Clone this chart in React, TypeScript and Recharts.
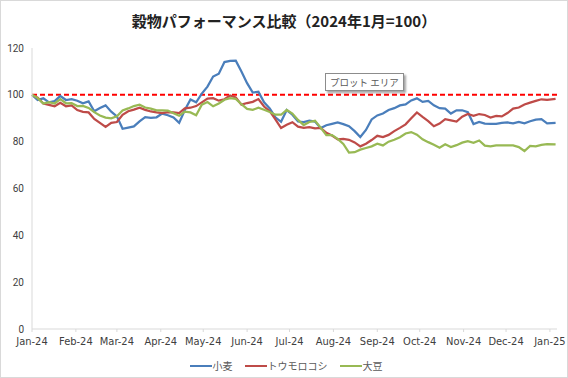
import { LineChart, Line, XAxis, YAxis, ReferenceLine, Legend } from 'recharts';

// days since 2024-01-01, one reading every 4 days
const days = [
  0, 4, 8, 12, 16, 20, 24, 28, 32, 36, 40, 44, 48, 52, 56, 60, 64, 68, 72, 76, 80, 84, 88,
  92, 96, 100, 104, 108, 112, 116, 120, 124, 128, 132, 136, 140, 144, 148, 152, 156, 160,
  164, 168, 172, 176, 180, 184, 188, 192, 196, 200, 204, 208, 212, 216, 220, 224, 228, 232,
  236, 240, 244, 248, 252, 256, 260, 264, 268, 272, 276, 280, 284, 288, 292, 296, 300, 304,
  308, 312, 316, 320, 324, 328, 332, 336, 340, 344, 348, 352, 356, 360, 364, 370,
];

const wheat = [
  100, 97.8, 98.5, 96.8, 97.3, 99.5, 97.8, 98.2, 97.5, 96.4, 97.2, 93, 94.4, 95.5, 92.8, 90.8,
  85.5, 86, 86.5, 88.7, 90.5, 90.2, 90.4, 92, 91.3, 90.3, 88, 93.5, 98, 96.8, 100.5, 103.5,
  107.8, 109, 114, 114.5, 114.6, 110, 105, 101, 101.3, 96.8, 94.2, 90.4, 88.5, 93.5, 91.5,
  88.6, 88.4, 89, 88.6, 85.8, 87, 87.6, 88.2, 87.5, 86.6, 84.5, 82, 85, 89.5, 91.2, 92, 93.5,
  94.3, 95.5, 95.9, 97.6, 98.5, 97, 97.4, 95.5, 94.3, 94.1, 92, 93.4, 93.4, 92.6, 87.5, 88.4,
  87.7, 87.6, 87.6, 88, 88.2, 87.8, 88.4, 87.8, 88.7, 89.4, 89.6, 87.8, 88,
];

const corn = [
  100, 98.8, 96.3, 95.7, 95.1, 96.6, 95.1, 95.5, 93.5, 92.7, 92.5, 89.7, 88, 86.3, 88, 88.4,
  91.5, 93, 93.7, 94.5, 93.6, 92.9, 92.5, 92.2, 92.6, 92.5, 92.2, 94.2, 94.5, 95.2, 96.8, 98.4,
  98.6, 97.5, 98.1, 99.7, 98.9, 95.8, 96.5, 97, 98.2, 95, 93, 89.5, 85.8, 87.2, 88.3, 86.4,
  85.9, 86.2, 85.7, 85.9, 83.8, 82.6, 81, 81.2, 80.8, 79.7, 78, 79.1, 80.7, 82.5, 82, 82.9,
  84.5, 85.9, 87.4, 90, 92.5, 90.6, 88.8, 86.6, 87.7, 89.6, 89.1, 88.6, 90.7, 91.8, 91, 91.8,
  91.4, 90.3, 91, 90.8, 92.2, 94.1, 94.6, 95.9, 96.7, 97.4, 98.1, 97.8, 98.3,
];

const soy = [
  100, 98.6, 96.3, 96.9, 96.3, 98.2, 96.4, 96.5, 95.2, 95.3, 94.4, 92.6, 91.2, 90.3, 90, 90.8,
  93.3, 94.2, 95.2, 95.8, 94.6, 94.1, 93.4, 93.4, 93.3, 92.1, 91.1, 92.8, 92.5, 91.3, 95.8,
  96.9, 95.1, 96.3, 97.9, 98.6, 98.3, 96, 94, 93.6, 94.5, 93.6, 92.7, 91.5, 91.5, 93.6, 92,
  89.3, 87.1, 88.4, 88.9, 86, 82.8, 82.8, 81.2, 79, 75.3, 75.5, 76.6, 77.3, 78, 79.1, 78.4, 80,
  80.8, 81.9, 83.5, 84.1, 83, 81, 79.8, 78.7, 77.4, 78.9, 77.7, 78.5, 79.6, 80.2, 79.5, 80.5,
  78.3, 78, 78.4, 78.4, 78.4, 78.4, 77.7, 76, 78.2, 78, 78.6, 78.9, 78.8,
];

const monthTicks = [0, 31, 60, 91, 121, 152, 182, 213, 244, 274, 305, 335, 366];
const monthLabels = [
  'Jan-24', 'Feb-24', 'Mar-24', 'Apr-24', 'May-24', 'Jun-24', 'Jul-24',
  'Aug-24', 'Sep-24', 'Oct-24', 'Nov-24', 'Dec-24', 'Jan-25',
];
const yTicks = [0, 20, 40, 60, 80, 100, 120];

const seriesNames = ['小麦', 'トウモロコシ', '大豆'];
const seriesColors = ['#4A7EBB', '#BE4B48', '#98B954'];

const data = days.map((d, i) => ({ day: d, wheat: wheat[i], corn: corn[i], soy: soy[i] }));

const font = '"Noto Sans CJK JP", "Noto Sans", sans-serif';
const narrow = '"Liberation Sans Narrow", "DejaVu Sans Condensed", Arial, sans-serif';

function LegendContent() {
  return (
    <div style={{ display: 'flex', justifyContent: 'center', gap: 12, fontFamily: font, fontSize: 10, color: '#595959', marginLeft: 10, marginTop: 3 }}>
      {seriesNames.map((name, i) => (
        <div key={name} style={{ display: 'flex', alignItems: 'center' }}>
          <span style={{ display: 'inline-block', width: 22, height: 2, background: seriesColors[i], marginRight: 1 }} />
          <span>{name}</span>
        </div>
      ))}
    </div>
  );
}

export default function App() {
  return (
    <div style={{ position: 'relative', width: 568, height: 378, background: '#fff', border: '1px solid #d9d9d9', boxSizing: 'border-box' }}>
      <style>{'body{margin:0}'}</style>
      <div style={{ position: 'absolute', top: 9, left: 0, width: '100%', textAlign: 'center', fontFamily: font, fontWeight: 700, fontSize: 15, color: '#222' }}>
        穀物パフォーマンス比較（2024年1月=100）
      </div>
      <LineChart width={566} height={376} data={data} margin={{ top: 47, right: 10, left: 4, bottom: 2 }}>
        <XAxis
          dataKey="day"
          type="number"
          domain={[0, 371]}
          ticks={monthTicks}
          tickFormatter={(v: number) => monthLabels[monthTicks.indexOf(v)]}
          stroke="#d9d9d9"
          tickSize={3}
          tickMargin={5}
          tick={{ fontSize: 11, fill: '#404040', fontFamily: narrow }}
          height={26}
          interval={0}
        />
        <YAxis
          domain={[0, 120]}
          ticks={yTicks}
          stroke="#d9d9d9"
          tickLine={false}
          width={27}
          tick={{ fontSize: 10, fill: '#404040', fontFamily: 'Roboto' }}
        />
        <ReferenceLine y={100} stroke="#FF0000" strokeWidth={2} strokeDasharray="5 3" />
        <Line type="linear" dataKey="wheat" name={seriesNames[0]} stroke={seriesColors[0]} strokeWidth={2.25} dot={false} isAnimationActive={false} />
        <Line type="linear" dataKey="corn" name={seriesNames[1]} stroke={seriesColors[1]} strokeWidth={2.25} dot={false} isAnimationActive={false} />
        <Line type="linear" dataKey="soy" name={seriesNames[2]} stroke={seriesColors[2]} strokeWidth={2.25} dot={false} isAnimationActive={false} />
        <Legend verticalAlign="bottom" height={20} content={() => <LegendContent />} />
      </LineChart>
      <div
        style={{
          position: 'absolute', left: 324, top: 72, padding: '0 4px', height: 16, lineHeight: '16px',
          background: '#fff', border: '1px solid #8c8c8c', boxShadow: '2px 2px 2px rgba(0,0,0,0.35)',
          fontFamily: font, fontSize: 9.5, color: '#595959', whiteSpace: 'nowrap',
        }}
      >
        プロット エリア
      </div>
    </div>
  );
}
